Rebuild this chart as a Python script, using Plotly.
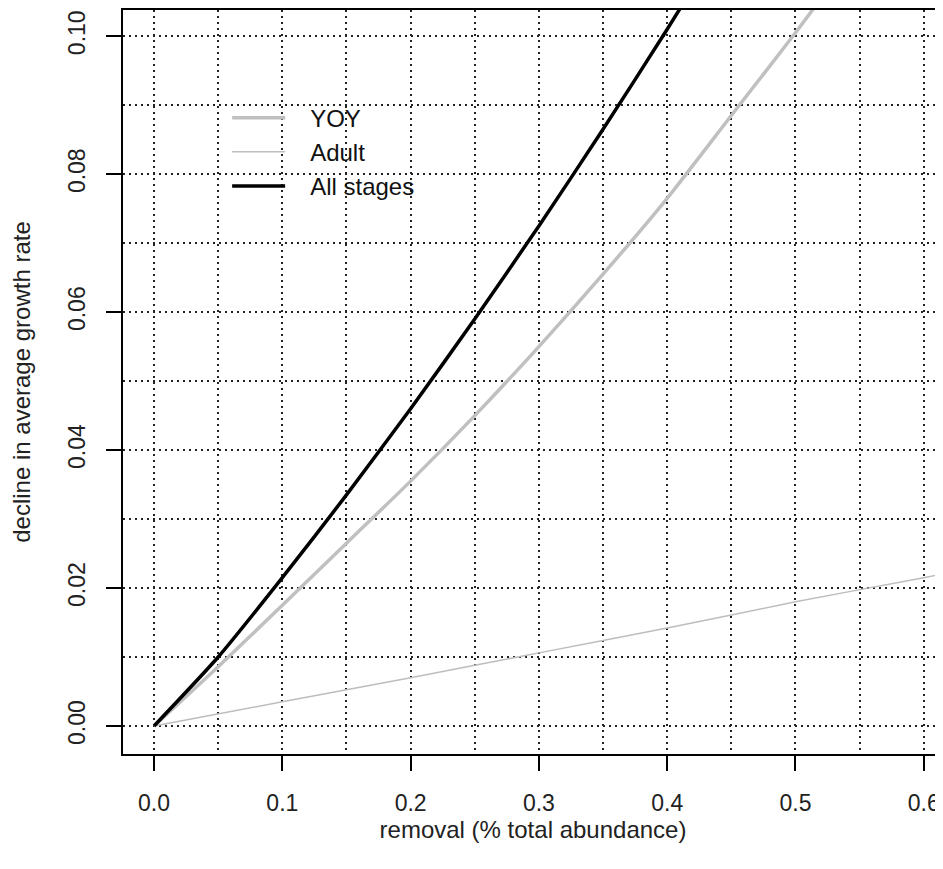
import plotly.graph_objects as go

removal_all = [0.0, 0.05, 0.10, 0.15, 0.20, 0.25, 0.30, 0.35, 0.40, 0.42]
decline_all = [0.0, 0.0100, 0.0215, 0.0335, 0.0460, 0.0590, 0.0725, 0.0865, 0.1010, 0.1070]

removal_yoy = [0.0, 0.05, 0.10, 0.15, 0.20, 0.25, 0.30, 0.35, 0.40, 0.45, 0.50, 0.53]
decline_yoy = [0.0, 0.0086, 0.0175, 0.0265, 0.0355, 0.0450, 0.0550, 0.0655, 0.0765, 0.0885, 0.1005, 0.1080]

removal_adult = [0.0, 0.10, 0.20, 0.30, 0.40, 0.50, 0.60, 0.62]
decline_adult = [0.0, 0.0035, 0.0070, 0.0106, 0.0142, 0.0180, 0.0215, 0.0222]

x_ticks = [0.0, 0.1, 0.2, 0.3, 0.4, 0.5, 0.6]
y_ticks = [0.00, 0.02, 0.04, 0.06, 0.08, 0.10]

pad = "\u00a0\u00a0\u00a0"
fig = go.Figure()
fig.add_trace(go.Scatter(x=removal_yoy, y=decline_yoy, mode="lines", name=pad + "YOY",
                         line=dict(color="#c0c0c0", width=3.5, shape="spline", smoothing=0.6)))
fig.add_trace(go.Scatter(x=removal_adult, y=decline_adult, mode="lines", name=pad + "Adult",
                         line=dict(color="#bdbdbd", width=1.5, shape="spline", smoothing=0.6)))
fig.add_trace(go.Scatter(x=removal_all, y=decline_all, mode="lines", name=pad + "All stages",
                         line=dict(color="black", width=3.5, shape="spline", smoothing=0.6)))

font = "Liberation Sans, Arial, sans-serif"
grid_dash = "2px,4px"
fig.update_layout(
    width=935, height=853,
    margin=dict(l=115, r=0, t=2, b=107),
    paper_bgcolor="white", plot_bgcolor="white",
    font=dict(family=font, color="black", size=23),
    legend=dict(x=0.127, y=0.885, xanchor="left", yanchor="top",
                bgcolor="rgba(0,0,0,0)", font=dict(size=24, family=font, color="#111111"),
                itemwidth=53, tracegroupgap=0),
    showlegend=True,
)
fig.update_xaxes(
    range=[-0.0242, 0.615], tickvals=x_ticks, ticktext=[f"{v:.1f}" for v in x_ticks],
    showline=True, linecolor="black", linewidth=2, mirror=True,
    ticks="outside", ticklen=15, tickwidth=2, tickcolor="black", ticklabelstandoff=12,
    ticklabeloverflow="allow",
    showgrid=True, gridcolor="#222222", gridwidth=1.5, griddash=grid_dash,
    minor=dict(dtick=0.05, tick0=0, showgrid=True, gridcolor="#222222", gridwidth=1.5, griddash=grid_dash),
    zeroline=False, tickfont=dict(size=23, color="#222222"),
    title=dict(text="removal (% total abundance)", font=dict(size=24, color="#222222"), standoff=6),
)
fig.update_yaxes(
    range=[-0.00406, 0.1038], tickvals=y_ticks, ticktext=[f"{v:.2f}" for v in y_ticks],
    showline=True, linecolor="black", linewidth=2, mirror=False,
    ticks="outside", ticklen=15, tickwidth=2, tickcolor="black", tickangle=-90, ticklabelstandoff=12,
    showgrid=True, gridcolor="#222222", gridwidth=1.5, griddash=grid_dash,
    minor=dict(dtick=0.01, tick0=0, showgrid=True, gridcolor="#222222", gridwidth=1.5, griddash=grid_dash),
    zeroline=False, tickfont=dict(size=23, color="#222222"),
    title=dict(text="decline in average growth rate", font=dict(size=24, color="#222222"), standoff=28),
)

fig.write_html("out.html")
